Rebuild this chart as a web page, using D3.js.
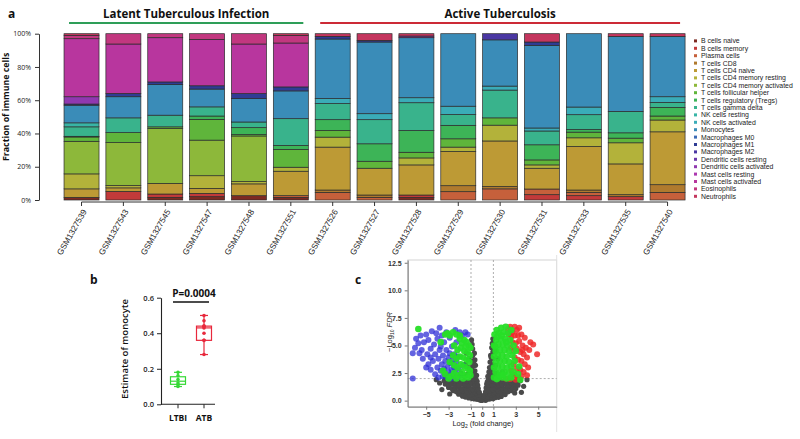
<!DOCTYPE html>
<html><head><meta charset="utf-8">
<script src="https://cdn.jsdelivr.net/npm/d3@7"></script>
<style>body{margin:0;background:#fff}svg{display:block}</style>
</head><body>
<svg id="chart" width="800" height="439"></svg>
<script>
// ---------------- DATA ----------------
const samples = ['GSM1327539','GSM1327543','GSM1327545','GSM1327547','GSM1327548','GSM1327551','GSM1327526','GSM1327527','GSM1327528','GSM1327529','GSM1327530','GSM1327531','GSM1327533','GSM1327535','GSM1327540'];
const groupNames = ['Latent Tuberculous Infection','Active Tuberculosis'];
const groupSizes = [6, 9];
const cellTypes = ['B cells naive','B cells memory','Plasma cells','T cells CD8','T cells CD4 naive','T cells CD4 memory resting','T cells CD4 memory activated','T cells follicular helper','T cells regulatory (Tregs)','T cells gamma delta','NK cells resting','NK cells activated','Monocytes','Macrophages M0','Macrophages M1','Macrophages M2','Dendritic cells resting','Dendritic cells activated','Mast cells resting','Mast cells activated','Eosinophils','Neutrophils'];
// fraction (%) of each cell type per sample, in cellTypes order
const fractions = [
 [1.6,0,0,0,5.1,9.0,19.6,2.6,0.4,5.7,2.4,0,10.6,0,0.7,0,0,4.4,0,34.9,2.0,1.0],
 [0,5.2,0,0,2.1,1.4,25.8,6.0,0,8.9,0,0,12.7,0,2.0,0,0,0,0,29.7,6.2,0],
 [1.6,2.0,0,0,6.4,0,33.0,1.0,0,7.0,0,0,18.4,0,1.6,0,0,0,0,26.6,2.4,0],
 [2.0,2.0,0,0,3.0,7.6,21.4,12.5,2.0,5.5,0,0,10.7,0,2.0,0,0,0,0,27.9,3.4,0],
 [2.6,0,0,0,7.1,1.4,27.4,0.8,4.2,3.4,0,0,14.1,0,3.0,0,0,0,0,29.8,6.2,0],
 [1.6,0,1.0,0,14.7,2.4,0,10.7,2.4,16.1,0,0,16.7,0,2.4,0,0,0,0,26.4,4.6,1.0],
 [0,0,4.6,1.4,25.8,6.0,0,4.0,6.5,9.7,0,3.0,35.8,0,1.6,0,0,0,0,0,0,1.6],
 [0,0,1.6,1.4,16.1,0,0,4.2,10.5,14.5,0,3.6,43.1,0,1.0,0,0,0,0,0,0,4.0],
 [1.6,1.4,0,0,18.1,4.2,0,3.4,13.1,16.7,0,3.0,36.1,0,0,0,0,1.0,0,0,0,1.4],
 [0,0,5.0,3.6,20.6,2.6,0,5.0,8.1,6.5,0,5.0,43.6,0,0,0,0,0,0,0,0,0],
 [0,0,6.7,1.4,27.4,9.5,0,4.4,0,16.7,0,2.4,27.8,0,0,3.7,0,0,0,0,0,0],
 [0,3.2,3.4,0,12.5,2.0,0,3.0,9.1,8.3,0,1.8,49.7,0,2.0,0,0,0,0,0,0,5.0],
 [0,2.6,2.0,1.4,26.2,5.2,0,3.4,1.6,8.9,0,4.6,44.1,0,0,0,0,0,0,0,0,0],
 [0,2.0,0,1.2,18.5,12.7,0,2.8,3.2,12.9,0,0,45.1,0,0,0,0,0,0,0,0,1.6],
 [0,0,4.6,4.6,31.8,7.1,0,2.4,5.2,3.0,0,3.4,36.3,0,0,0,0,0,0,0,0,1.6]
];
const yTicksA = [0,20,40,60,80,100];

// panel b: monocyte estimates
const boxGroups = ['LTBI','ATB'];
const ltbiMono = [0.10,0.11,0.12,0.14,0.16,0.18];
const atbMono = [0.28,0.36,0.36,0.40,0.43,0.44,0.44,0.47,0.50];
const yTicksB = [0.0,0.2,0.4,0.6];
const pValueLabel = 'P=0.0004';

// panel c: volcano [log2FC, -log10 FDR]
const grayPts = [
 [-0.2,0.05],[0.15,0.08],[-0.45,0.12],[0.4,0.1],[-0.7,0.15],[0.65,0.14],[-0.05,0.02],[0.3,0.03],[-0.9,0.2],[0.95,0.18],[-0.3,0.18],[0.05,0.12],
 [-1.5,0.32],[-1.2,0.25],[-0.95,0.3],[-0.6,0.35],[-0.3,0.3],[0.25,0.28],[0.55,0.33],[0.85,0.3],[1.15,0.27],[1.45,0.3],[1.7,0.38],[-1.75,0.4],[0.1,0.35],[-0.1,0.4],
 [-2.1,0.58],[-1.8,0.55],[-1.45,0.6],[-1.1,0.5],[-0.8,0.62],[-0.45,0.55],[-0.2,0.5],[0.2,0.52],[0.5,0.6],[0.8,0.5],[1.1,0.58],[1.4,0.55],[1.75,0.6],[2.05,0.55],[-1.3,0.7],[1.25,0.72],[-0.6,0.72],[0.65,0.7],
 [-2.6,0.9],[-2.3,0.8],[-2.0,0.85],[-1.7,0.9],[-1.35,0.82],[-1.0,0.88],[-0.7,0.8],[-0.4,0.9],[-0.25,0.75],[0.3,0.8],[0.5,0.9],[0.8,0.85],[1.1,0.8],[1.4,0.9],[1.7,0.82],[2.0,0.88],[2.3,0.8],[2.6,0.9],[-1.85,1.0],[1.85,1.0],[-0.85,1.0],[0.95,1.0],
 [-3.0,1.2],[-2.7,1.1],[-2.4,1.15],[-2.1,1.2],[-1.8,1.1],[-1.5,1.2],[-1.2,1.15],[-0.9,1.1],[-0.6,1.2],[-0.35,1.1],[0.35,1.15],[0.6,1.2],[0.9,1.1],[1.2,1.15],[1.5,1.2],[1.8,1.15],[2.1,1.1],[2.4,1.2],[2.7,1.15],[3.0,1.1],[-2.25,1.3],[2.25,1.3],[-1.35,1.3],[1.35,1.3],
 [-3.3,1.5],[-3.0,1.4],[-2.7,1.5],[-2.4,1.45],[-2.1,1.4],[-1.8,1.5],[-1.5,1.45],[-1.2,1.4],[-0.9,1.5],[-0.6,1.45],[-0.4,1.4],[0.4,1.5],[0.6,1.4],[0.9,1.45],[1.2,1.5],[1.5,1.4],[1.8,1.45],[2.1,1.5],[2.4,1.4],[2.7,1.5],[3.0,1.45],[3.2,1.4],[-1.05,1.6],[1.05,1.6],[-2.55,1.62],[2.55,1.62],
 [-3.4,1.8],[-3.1,1.75],[-2.8,1.7],[-2.5,1.8],[-2.2,1.75],[-1.9,1.7],[-1.6,1.8],[-1.3,1.75],[-1.0,1.7],[-0.7,1.8],[-0.45,1.75],[0.45,1.7],[0.7,1.8],[1.0,1.75],[1.3,1.7],[1.6,1.8],[1.9,1.75],[2.2,1.7],[2.5,1.8],[2.8,1.75],[3.1,1.7],[3.4,1.8],[-0.55,1.95],[0.55,1.95],[-0.8,1.95],[0.85,1.95],
 [-0.95,2.1],[-0.7,2.2],[-0.5,2.3],[0.5,2.2],[0.75,2.1],[0.95,2.3],[-0.9,2.6],[-0.65,2.7],[0.6,2.6],[0.9,2.8],[-0.85,3.1],[-0.6,3.2],[0.65,3.0],[0.9,3.3],[-0.75,2.45],[0.75,2.45],
 [-0.9,3.6],[-0.65,3.7],[0.7,3.5],[0.95,3.8],[-0.85,4.1],[-0.7,4.3],[0.75,4.1],[0.95,4.4],[-0.85,4.7],[0.85,4.8],[-0.9,5.1],[0.9,5.2],[-0.95,5.5],[0.95,5.6],[-0.75,3.4],[0.8,3.9],
 [-1.3,2.4],[-1.6,2.2],[-1.9,2.5],[-1.2,3.0],[-1.5,3.3],[-1.2,3.8],[-1.4,4.3],[1.2,2.5],[1.5,2.2],[1.8,2.6],[1.2,3.2],[1.4,3.8],[1.15,4.5],
 [-3.6,1.0],[-3.8,1.6],[3.5,0.75],[3.7,1.3],[-2.9,0.6],[2.9,0.7],[-3.3,2.1],[3.3,2.0],[4.0,1.9],[-4.1,1.9]
];
const bluePts = [
 [-6.2,2.0],[-6.2,4.3],[-6.0,4.8],[-5.9,5.6],[-5.7,5.2],[-5.5,5.9],[-5.4,4.6],[-5.3,3.8],[-5.2,5.3],[-5.0,6.0],[-4.9,4.2],[-4.8,3.3],[-4.8,5.5],[-4.6,2.8],[-4.6,4.7],[-4.5,6.3],[-4.4,3.6],[-4.3,5.1],[-4.2,2.4],[-4.2,4.2],[-4.1,6.1],[-4.0,3.0],[-4.0,5.6],[-3.9,2.1],[-3.9,3.8],[-3.8,4.6],[-3.8,6.6],[-3.7,2.7],[-3.6,3.3],[-3.6,5.9],
 [-3.5,2.2],[-3.5,4.1],[-3.4,2.9],[-3.4,5.3],[-3.3,3.6],[-3.3,2.4],[-3.2,4.6],[-3.2,6.2],[-3.1,2.1],[-3.1,3.1],[-3.0,3.9],[-3.0,2.6],[-2.9,4.3],[-2.9,5.7],[-2.9,2.3],[-2.8,3.4],[-2.8,2.0],[-2.7,2.8],[-2.7,4.9],[-2.6,3.7],[-2.6,2.2],[-2.5,4.2],[-2.5,3.0],[-2.4,2.5],[-2.4,6.4],[-2.3,3.5],[-2.3,5.3],[-2.2,2.1],[-2.2,4.0],[-2.1,2.9],[-2.0,6.2],[-1.9,2.3],[-1.8,5.9],[-1.7,3.2],[-1.5,6.2],[-1.3,6.0],[-3.7,4.9],[-4.6,3.9],[-5.0,3.0],[-5.6,4.3]
];
const redPts = [
 [2.3,6.5],[2.5,6.7],[2.7,6.2],[2.9,6.7],[3.1,6.4],[3.3,6.6],[2.6,5.8],[2.9,5.9],[3.2,5.9],[3.5,6.0],[3.8,5.7],[4.55,5.1],[4.9,4.2],[2.7,5.3],[3.0,5.2],[3.3,5.4],[3.6,5.0],[3.9,4.8],[4.2,4.6],[2.8,4.5],[3.1,4.7],[3.4,4.4],[3.7,4.2],[4.0,3.9],[2.9,3.9],[3.2,3.7],[3.5,3.6],[3.8,3.3],[4.1,3.0],[2.8,3.3],[3.1,2.9],[3.4,2.8],[3.7,2.6],[4.0,2.3],[2.6,2.7],[2.9,2.3],[3.2,2.1],[3.5,2.2],[2.5,1.95],[3.0,1.9],[2.7,2.4],[2.4,6.0],[2.55,4.8],[3.6,4.6],[4.3,5.3],[1.5,2.1],[1.8,2.3],[2.1,2.0]
];
const greenPts = [
 [-5.7,6.5],[-3.7,5.3],[-3.3,6.0],[-3.1,6.1],[-2.9,5.9],[-2.6,6.2],[-2.3,6.0],[-2.0,5.6],[-1.8,5.2],[-1.6,5.5],[-1.4,5.3],[-1.2,5.0],[-1.05,4.8],[-2.5,5.0],[-2.2,4.6],[-1.9,4.8],[-1.6,4.5],[-1.3,4.4],[-1.1,4.1],[-2.6,4.1],[-2.3,3.8],[-2.0,4.0],[-1.7,3.9],[-1.4,3.7],[-1.15,3.5],[-2.9,3.5],[-2.5,3.2],[-2.2,3.0],[-1.9,3.3],[-1.6,3.1],[-1.3,2.9],[-1.1,2.7],[-3.3,2.4],[-2.8,2.2],[-2.5,2.5],[-2.1,2.3],[-1.8,2.6],[-1.5,2.3],[-1.25,2.1],[-1.05,2.3],[-3.0,2.0],[-2.3,2.0],[-1.7,2.0],[-3.5,2.7],[-2.0,5.9],[-1.5,4.9],
 [1.05,2.1],[1.05,3.0],[1.05,4.0],[1.05,5.0],[1.1,6.0],[1.2,2.6],[1.2,3.5],[1.2,4.5],[1.25,5.5],[1.3,6.4],[1.4,2.1],[1.4,3.1],[1.4,4.1],[1.45,5.1],[1.5,6.1],[1.6,2.6],[1.6,3.6],[1.6,4.6],[1.65,5.6],[1.7,6.6],[1.8,2.1],[1.8,3.1],[1.8,4.1],[1.85,5.1],[1.9,6.2],[2.0,2.6],[2.0,3.6],[2.0,4.6],[2.05,5.6],[2.1,6.7],[2.2,2.0],[2.2,3.0],[2.2,4.0],[2.25,5.0],[2.3,6.1],[2.4,2.5],[2.4,3.5],[2.4,4.5],[2.5,5.5],[2.6,6.4],[2.6,2.1],[2.6,3.1],[2.7,4.1],[2.8,5.0],[2.8,2.6],[2.9,3.6],[3.0,4.5],[3.3,3.1],[3.4,1.9],[3.2,2.4],[1.3,1.95],[1.55,2.3],[1.9,2.35],[1.15,4.9],[1.35,5.8],[1.75,5.9],[2.15,5.3]
];
const volXTicks = [-5,-3,-1,0,1,3,5];
const volYTicks = [0,2.5,5,7.5,10,12.5];
const fcCut = [-1, 1];
const fdrCut = 2;

// ---------------- STYLE ----------------
const cellColors = ['#7d2a22','#c23a3a','#c6603b','#b07a2e','#bd9a35','#b3b23a','#8db83a','#5fb53b','#3db457','#39b38c','#38b5a6','#3aacb8','#3a8cb8','#3a6ab5','#2f3c94','#4a37a3','#6b38aa','#9038b0','#ac38b0','#b8369e','#c2377f','#c4365e'];
const groupColors = ['#2e9e58','#cc2a36'];
const boxColors = ['#35d835','#e8283c'];
const SANS = "'Open Sans', 'Liberation Sans', sans-serif";
const ARIAL = "'Liberation Sans', Arial, sans-serif";

const svg = d3.select('#chart');

// ================= PANEL A =================
const xA = d3.scaleBand().domain(samples).range([60.6, 688.5]).paddingInner(0.164).paddingOuter(0.082);
const yA = d3.scaleLinear().domain([0, 100]).range([200, 33.7]);
const rows = fractions.map((f, i) => { const o = {sample: samples[i]}; f.forEach((v, k) => o[k] = v); return o; });
const stack = d3.stack().keys(d3.range(cellTypes.length))(rows);

const gA = svg.append('g');
gA.selectAll('g.layer').data(stack).join('g').attr('class','layer')
  .attr('fill', d => cellColors[d.key])
  .selectAll('rect').data(d => d.filter(s => s[1] - s[0] > 0)).join('rect')
  .attr('x', d => xA(d.data.sample))
  .attr('width', xA.bandwidth())
  .attr('y', d => yA(d[1]))
  .attr('height', d => yA(d[0]) - yA(d[1]))
  .attr('stroke', '#2b2b2b').attr('stroke-width', 0.7);

// y axis
const yAxA = gA.append('g').attr('transform','translate(39,0)')
  .call(d3.axisLeft(yA).tickValues(yTicksA).tickFormat(d => d + '%').tickSize(4).tickSizeOuter(0).tickPadding(4));
yAxA.select('.domain').attr('stroke','#333');
yAxA.selectAll('.tick line').attr('stroke','#333');
yAxA.selectAll('text').attr('font-family', SANS).attr('font-size', 7).attr('fill','#222');

gA.append('text').attr('transform', `translate(9,${yA(56)}) rotate(-90)`)
  .attr('text-anchor','middle').attr('font-family', SANS).attr('font-weight','bold')
  .attr('font-size', 8.8).attr('fill','#111').text('Fraction of immune cells');

// x axis
const xAxA = gA.append('g').attr('transform','translate(0,202)')
  .call(d3.axisBottom(xA).tickSize(4).tickSizeOuter(0));
xAxA.select('.domain').remove();
xAxA.selectAll('.tick line').attr('stroke','#333');
gA.append('line')
  .attr('x1', xA(samples[0]) + xA.bandwidth()/2).attr('x2', xA(samples[samples.length-1]) + xA.bandwidth()/2)
  .attr('y1', 202).attr('y2', 202).attr('stroke','#333');
xAxA.selectAll('text')
  .attr('font-family', ARIAL).attr('font-size', 8.3).attr('fill','#222')
  .attr('x', 0).attr('y', 0).attr('dy','0.35em')
  .attr('transform','translate(3,8) rotate(-60)')
  .style('text-anchor','end');

// group headers
let start = 0;
groupNames.forEach((name, gi) => {
  const first = samples[start], last = samples[start + groupSizes[gi] - 1];
  const x1 = xA(first) + 5, x2 = xA(last) + xA.bandwidth() - 5;
  gA.append('line').attr('x1', x1).attr('x2', x2).attr('y1', 23).attr('y2', 23)
    .attr('stroke', groupColors[gi]).attr('stroke-width', 2);
  gA.append('text').attr('x', (x1 + x2) / 2).attr('y', 18).attr('text-anchor','middle')
    .attr('font-family', SANS).attr('font-weight','bold').attr('font-size', 11.5).attr('fill','#111').text(name);
  start += groupSizes[gi];
});

// legend
const leg = gA.append('g').attr('transform','translate(694,41)');
const legStep = 7.4;
cellTypes.forEach((c, i) => {
  leg.append('rect').attr('x', 0).attr('y', i*legStep - 1.6).attr('width', 3).attr('height', 3).attr('fill', cellColors[i]);
  leg.append('text').attr('x', 7).attr('y', i*legStep).attr('dy','0.35em')
    .attr('font-family', ARIAL).attr('font-size', 6.9).attr('fill','#222').text(c);
});

// panel letters
const letter = (t, x, y) => svg.append('text').attr('x', x).attr('y', y).attr('font-family', SANS)
  .attr('font-weight','bold').attr('font-size', 12).attr('fill','#111').text(t);
letter('a', 8, 18);
letter('b', 90, 284);
letter('c', 355, 284);

// ================= PANEL B =================
const gB = svg.append('g');
const yB = d3.scaleLinear().domain([0, 0.6]).range([404.3, 297.7]);
const xB = d3.scalePoint().domain(boxGroups).range([178, 204]);
const yAxB = gB.append('g').attr('transform','translate(161,0)')
  .call(d3.axisLeft(yB).tickValues(yTicksB).tickFormat(d3.format('.1f')).tickSize(4).tickSizeOuter(0));
yAxB.select('.domain').attr('stroke','#222').attr('stroke-width',1.1);
yAxB.selectAll('.tick line').attr('stroke','#222');
yAxB.selectAll('text').attr('font-family', SANS).attr('font-weight','600').attr('font-size', 7.5).attr('fill','#222');
gB.append('line').attr('x1', 161).attr('x2', 215).attr('y1', yB(0)).attr('y2', yB(0)).attr('stroke','#222').attr('stroke-width',1.1);
boxGroups.forEach(g => {
  gB.append('line').attr('x1', xB(g)).attr('x2', xB(g)).attr('y1', yB(0)).attr('y2', yB(0) + 4).attr('stroke','#222');
  gB.append('text').attr('x', xB(g)).attr('y', 421).attr('text-anchor','middle')
    .attr('font-family', SANS).attr('font-weight','bold').attr('font-size', 8.5).attr('fill','#111').text(g);
});
gB.append('text').attr('transform','translate(128,349) rotate(-90)').attr('text-anchor','middle')
  .attr('font-family', SANS).attr('font-weight','600').attr('font-size', 9.5).attr('fill','#111').text('Estimate of monocyte');

[ltbiMono, atbMono].forEach((vals, i) => {
  const s = vals.slice().sort(d3.ascending);
  const q1 = d3.quantile(s, 0.25), med = d3.quantile(s, 0.5), q3 = d3.quantile(s, 0.75);
  const lo = d3.min(s), hi = d3.max(s);
  const cx = xB(boxGroups[i]), w = 15, col = boxColors[i];
  const g = gB.append('g').attr('stroke', col).attr('stroke-width', 1.2).attr('fill','none');
  g.append('line').attr('x1', cx).attr('x2', cx).attr('y1', yB(hi)).attr('y2', yB(q3));
  g.append('line').attr('x1', cx).attr('x2', cx).attr('y1', yB(q1)).attr('y2', yB(lo));
  g.append('line').attr('x1', cx-4).attr('x2', cx+4).attr('y1', yB(hi)).attr('y2', yB(hi));
  g.append('line').attr('x1', cx-4).attr('x2', cx+4).attr('y1', yB(lo)).attr('y2', yB(lo));
  g.append('rect').attr('x', cx - w/2).attr('width', w).attr('y', yB(q3)).attr('height', yB(q1) - yB(q3)).attr('fill','rgba(255,255,255,0.6)');
  g.append('line').attr('x1', cx - w/2).attr('x2', cx + w/2).attr('y1', yB(med)).attr('y2', yB(med));
  gB.selectAll(null).data(s).join('circle').attr('cx', cx).attr('cy', d => yB(d)).attr('r', 1.8).attr('fill', col);
});
gB.append('line').attr('x1', 173).attr('x2', 209).attr('y1', 302).attr('y2', 302).attr('stroke','#111').attr('stroke-width', 1.6);
gB.append('text').attr('x', 194).attr('y', 297).attr('text-anchor','middle')
  .attr('font-family', SANS).attr('font-weight','bold').attr('font-size', 10).attr('fill','#111').text(pValueLabel);

// ================= PANEL C =================
const gC = svg.append('g');
const xC = d3.scaleLinear().domain([-6.65, 6.65]).range([407.7, 556.7]);
const yC = d3.scaleLinear().domain([-0.55, 12.75]).range([406.7, 260]);
gC.append('rect').attr('x', xC(-6.65)).attr('y', yC(12.75)).attr('width', xC(6.65) - xC(-6.65))
  .attr('height', yC(-0.55) - yC(12.75)).attr('fill','none').attr('stroke','#c8c8c8').attr('stroke-width', 0.8);
gC.append('line').attr('x1', xC(6.65)).attr('x2', xC(6.65)).attr('y1', 255).attr('y2', 432).attr('stroke','#e2e2e2');
fcCut.forEach(v => gC.append('line').attr('x1', xC(v)).attr('x2', xC(v)).attr('y1', yC(12.75)).attr('y2', yC(-0.55))
  .attr('stroke','#999').attr('stroke-width', 0.8).attr('stroke-dasharray','2,2'));
gC.append('line').attr('x1', xC(-6.65)).attr('x2', xC(6.65)).attr('y1', yC(fdrCut)).attr('y2', yC(fdrCut))
  .attr('stroke','#999').attr('stroke-width', 0.8).attr('stroke-dasharray','2,2');

const dots = (pts, col, r, op) => gC.append('g').selectAll('circle').data(pts).join('circle')
  .attr('cx', d => xC(d[0])).attr('cy', d => yC(d[1])).attr('r', r).attr('fill', col).attr('fill-opacity', op);
dots(grayPts, '#4a4a4a', 2.6, 1);
dots(bluePts, '#2f2fd6', 3, 0.75);
dots(redPts, '#ee2a2a', 3, 0.85);
dots(greenPts, '#27de27', 3.3, 0.95);

const xAxC = gC.append('g').attr('transform', `translate(0,${yC(-0.55)})`)
  .call(d3.axisBottom(xC).tickValues(volXTicks).tickFormat(d3.format('d')).tickSize(3).tickSizeOuter(0));
xAxC.select('.domain').attr('stroke','#777');
xAxC.selectAll('.tick line').attr('stroke','#777');
xAxC.selectAll('text').attr('font-family', ARIAL).attr('font-weight','bold').attr('font-size', 7).attr('fill','#333').attr('dy','0.6em');
const yAxC = gC.append('g').attr('transform', `translate(${xC(-6.65)},0)`)
  .call(d3.axisLeft(yC).tickValues(volYTicks).tickFormat(d3.format('.1f')).tickSize(3).tickSizeOuter(0));
yAxC.select('.domain').attr('stroke','#777');
yAxC.selectAll('.tick line').attr('stroke','#777');
yAxC.selectAll('text').attr('font-family', ARIAL).attr('font-weight','bold').attr('font-size', 7).attr('fill','#333');

const xt = gC.append('text').attr('x', 483).attr('y', 426).attr('text-anchor','middle')
  .attr('font-family', ARIAL).attr('font-size', 7.5).attr('fill','#222');
xt.append('tspan').text('Log');
xt.append('tspan').attr('font-size', 5).attr('dy', 2).text('2');
xt.append('tspan').attr('dy', -2).text(' (fold change)');
const yt = gC.append('text').attr('transform','translate(392,332) rotate(-90)').attr('text-anchor','middle')
  .attr('font-family', ARIAL).attr('font-size', 7.5).attr('fill','#222');
yt.append('tspan').text('\u2212Log');
yt.append('tspan').attr('font-size', 5).attr('dy', 2).text('10');
yt.append('tspan').attr('dy', -2).attr('font-style','italic').text(' FDR');
</script>
</body></html>
